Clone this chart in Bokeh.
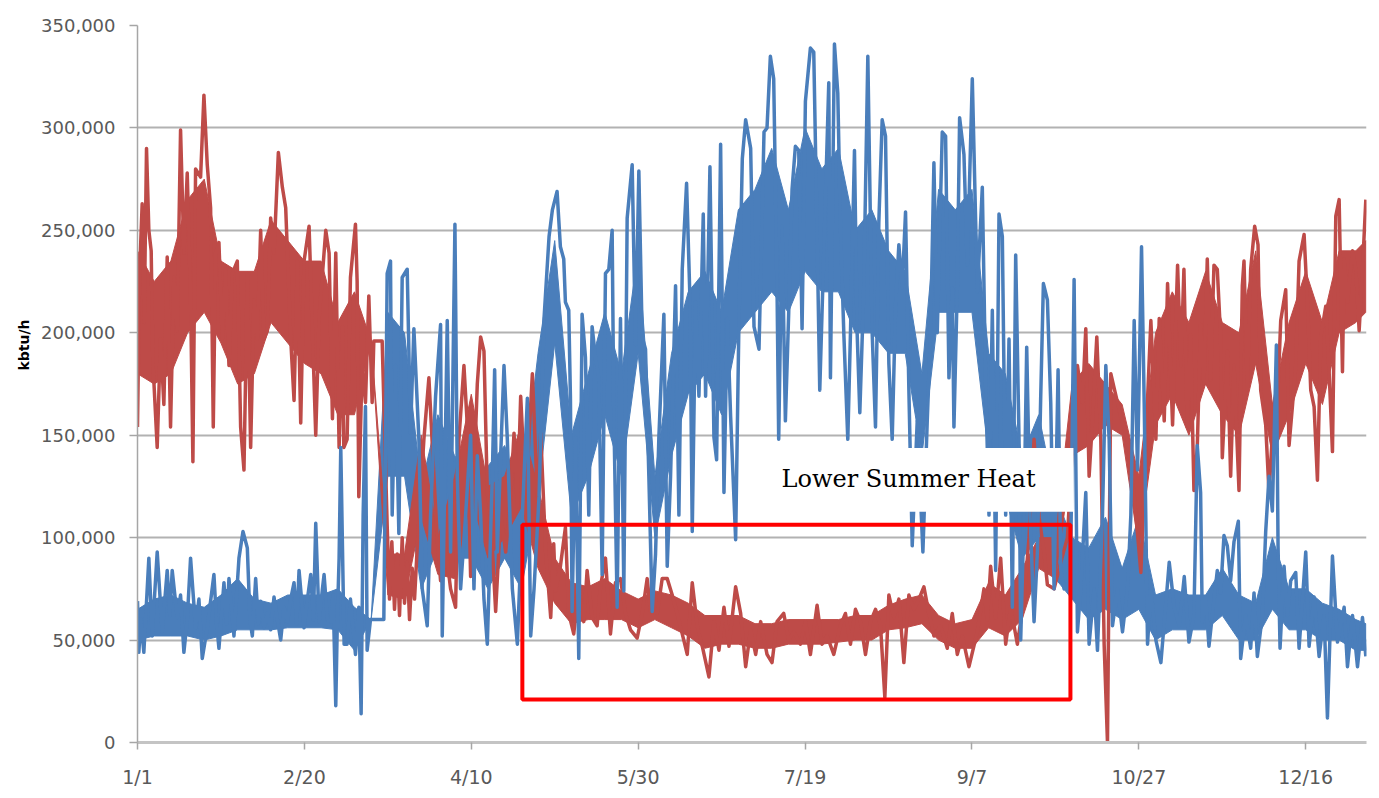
from bokeh.plotting import figure
from bokeh.models import ColumnDataSource, FixedTicker, Range1d, Label, NumeralTickFormatter, Title
from bokeh.embed import file_html
from bokeh.resources import INLINE

# ---------------- data ----------------
# x: day of year (0 = 1/1), y: kbtu/h in thousands
heat_days = [
    0.0, 0.6, 1.4, 2.0, 2.7, 3.4, 4.1, 4.6, 5.9, 6.9,
    7.9, 8.9, 9.9, 10.9, 11.9, 12.9, 13.9, 14.9, 15.9, 16.6,
    17.4, 18.9, 19.9, 20.9, 21.9, 22.7, 23.4, 24.4, 25.4, 26.4,
    27.4, 28.4, 29.9, 30.9, 31.9, 32.9, 33.9, 34.9, 35.9, 36.9,
    37.9, 38.9, 39.9, 40.9, 42.2, 43.4, 44.4, 45.9, 46.9, 47.9,
    48.9, 49.9, 51.4, 52.4, 53.4, 54.4, 56.4, 57.4, 58.4, 59.4,
    60.4, 61.4, 61.8, 62.8, 63.8, 65.3, 65.8, 66.3, 67.3, 68.3,
    69.3, 70.3, 70.8, 73.3, 73.6, 74.8, 75.5, 76.2, 77.0, 77.8,
    78.5, 79.3, 80.0, 80.8, 81.5, 82.3, 83.0, 83.8, 85.8, 87.3,
    88.8, 89.8, 90.8, 92.3, 93.8, 95.3, 96.3, 97.8, 98.8, 99.8,
    100.8, 101.8, 102.8, 103.8, 104.8, 105.8, 107.3, 108.8, 110.3, 111.8,
    112.8, 113.8, 114.8, 116.3, 118.3, 119.8, 120.8, 122.3, 123.8, 124.7,
    125.2, 126.7, 128.2, 129.2, 130.7, 132.2, 133.7, 134.7, 136.2, 137.7,
    138.7, 140.2, 141.7, 143.2, 144.7, 146.2, 147.7, 149.7, 151.2, 152.7,
    153.7, 155.7, 157.2, 158.7, 160.2, 161.7, 163.2, 164.7, 166.2, 167.7,
    169.2, 171.2, 172.7, 174.2, 175.7, 177.2, 179.2, 180.7, 182.2, 183.7,
    185.2, 186.7, 188.6, 190.1, 191.6, 193.6, 195.1, 196.6, 198.6, 200.1,
    201.6, 203.6, 205.1, 206.6, 208.6, 210.6, 212.1, 213.6, 215.1, 216.6,
    218.1, 219.6, 221.1, 222.6, 223.9, 225.1, 226.6, 228.1, 229.6, 231.1,
    232.6, 234.1, 235.6, 237.1, 238.6, 240.6, 242.6, 244.1, 245.6, 247.1,
    249.1, 251.6, 253.6, 254.6, 255.6, 257.1, 258.6, 260.1, 261.6, 263.6,
    265.6, 267.1, 268.6, 270.1, 271.6, 272.6, 274.6, 276.6, 278.6, 279.6,
    281.6, 283.1, 284.1, 285.1, 286.1, 287.4, 288.6, 289.6, 290.6, 291.6,
    292.6, 294.6, 296.6, 298.6, 299.6, 300.6, 302.1, 303.6, 305.1, 306.1,
    307.6, 308.6, 310.1, 311.6, 312.6, 313.5, 314.5, 315.5, 316.5, 317.5,
    318.5, 319.5, 320.5, 321.5, 322.5, 323.5, 324.5, 325.0, 326.5, 327.5,
    328.5, 330.0, 331.0, 331.5, 332.5, 333.5, 334.7, 335.7, 336.5, 338.0,
    339.0, 340.0, 341.5, 342.5, 344.0, 345.0, 346.0, 347.0, 348.0, 349.5,
    350.5, 351.5, 352.5, 353.5, 354.5, 356.0, 357.0, 358.0, 359.0, 360.0,
    361.0, 361.5, 362.5, 364.0, 365.0, 366.0, 367.0, 368.0,
]
heat_k = [
    154, 228, 263, 205, 290, 250, 240, 186, 144, 197,
    165, 237, 154, 227, 201, 299, 239, 278, 218, 137,
    280, 276, 316, 282, 261, 154, 239, 244, 197, 231,
    184, 229, 235, 154, 133, 229, 144, 216, 197, 250,
    197, 201, 256, 239, 288, 271, 261, 197, 167, 235,
    156, 235, 252, 201, 150, 207, 250, 239, 158, 239,
    144, 203, 144, 148, 227, 253, 225, 120, 184, 166,
    218, 166, 196, 196, 178, 106, 70, 98, 65, 92,
    62, 100, 68, 88, 60, 85, 70, 95, 148, 178,
    130, 100, 79, 95, 75, 66, 148, 184, 155, 81,
    130, 175, 198, 191, 122, 111, 64, 111, 93, 120,
    151, 115, 169, 119, 180, 120, 151, 93, 61, 97,
    74, 86, 105, 63, 53, 76, 59, 84, 61, 57,
    76, 90, 53, 78, 80, 63, 55, 51, 63, 80,
    64, 63, 80, 80, 72, 63, 53, 43, 78, 57,
    47, 32, 59, 45, 66, 47, 76, 63, 37, 55,
    43, 59, 43, 39, 59, 63, 50, 54, 48, 59,
    43, 67, 48, 52, 43, 57, 63, 48, 65, 59,
    43, 59, 65, 57, 22, 72, 61, 70, 39, 72,
    65, 70, 76, 63, 52, 57, 46, 63, 43, 52,
    37, 54, 75, 60, 86, 61, 90, 48, 66, 48,
    70, 100, 148, 110, 93, 77, 75, 88, 100, 130,
    184, 166, 202, 130, 157, 198, 148, 48, 0, 180,
    173, 159, 148, 120, 102, 83, 148, 206, 148, 207,
    157, 224, 155, 233, 184, 231, 154, 199, 123, 144,
    204, 175, 236, 177, 233, 231, 198, 139, 191, 130,
    184, 123, 223, 235, 172, 231, 252, 243, 172, 155,
    122, 150, 164, 206, 221, 145, 164, 184, 235, 248,
    215, 172, 164, 128, 198, 213, 181, 142, 257, 265,
    181, 236, 215, 240, 231, 201, 231, 265,
]

cool_days = [
    0.0, 0.4, 1.0, 1.9, 3.4, 4.4, 5.9, 7.4, 8.9, 9.7,
    10.4, 11.9, 12.9, 13.9, 14.9, 15.9, 17.4, 18.4, 19.4, 20.9,
    22.9, 23.7, 24.4, 25.9, 26.7, 27.4, 28.9, 30.4, 31.6, 32.9,
    33.7, 34.4, 35.4, 36.2, 36.9, 37.9, 38.9, 39.9, 40.9, 41.9,
    42.9, 43.9, 44.9, 45.9, 46.9, 47.7, 48.4, 49.9, 50.9, 51.9,
    52.7, 53.4, 54.4, 55.4, 55.9, 56.9, 57.9, 58.6, 59.4, 59.9,
    60.4, 60.9, 61.9, 62.8, 63.8, 65.3, 66.3, 67.0, 67.6, 68.3,
    68.8, 69.8, 73.8, 74.8, 75.8, 76.3, 77.3, 78.3, 79.3, 80.8,
    81.8, 82.8, 84.3, 85.3, 86.8, 87.8, 89.3, 90.8, 91.3, 92.8,
    93.8, 95.1, 95.8, 96.8, 98.3, 99.8, 100.8, 101.8, 102.8, 103.8,
    104.8, 106.3, 107.0, 107.8, 108.8, 109.8, 110.8, 112.3, 113.8, 115.3,
    116.8, 117.8, 118.8, 120.3, 121.8, 123.3, 124.3, 125.7, 126.7, 127.7,
    128.2, 129.2, 129.7, 130.2, 131.2, 132.2, 133.2, 134.2, 135.2, 136.2,
    137.2, 138.2, 139.2, 140.2, 141.2, 142.2, 142.7, 143.7, 144.7, 145.7,
    146.7, 148.2, 149.2, 150.2, 151.2, 152.2, 153.2, 154.2, 155.2, 156.2,
    157.7, 158.7, 159.7, 161.2, 162.2, 163.2, 164.5, 165.5, 166.2, 167.2,
    168.2, 169.5, 170.2, 171.5, 172.7, 173.5, 174.7, 175.7, 176.7, 177.7,
    179.2, 180.2, 181.2, 182.2, 183.7, 184.7, 186.2, 187.7, 188.6, 189.6,
    190.6, 191.6, 192.1, 193.1, 194.1, 195.1, 196.1, 197.1, 198.1, 199.1,
    200.1, 201.6, 202.6, 203.6, 204.4, 205.1, 206.1, 207.1, 207.6, 208.8,
    209.8, 210.6, 211.6, 212.8, 213.6, 214.8, 215.6, 216.4, 217.6, 218.8,
    220.1, 221.1, 222.1, 223.1, 224.1, 225.1, 226.1, 227.1, 228.1, 229.1,
    230.1, 231.1, 232.1, 233.6, 235.3, 236.6, 237.6, 238.6, 239.6, 241.1,
    242.1, 243.1, 244.1, 244.6, 245.6, 246.3, 247.6, 248.6, 250.1, 251.6,
    253.1, 254.1, 255.1, 256.1, 257.1, 258.1, 259.1, 260.1, 261.1, 262.1,
    263.1, 264.1, 264.6, 265.6, 266.4, 267.4, 268.6, 269.6, 270.6, 271.4,
    272.6, 273.6, 274.6, 275.8, 276.6, 277.6, 278.6, 279.6, 280.6, 281.6,
    282.6, 284.1, 285.1, 286.6, 287.6, 289.1, 290.1, 291.1, 292.1, 293.6,
    295.1, 296.6, 297.6, 298.6, 299.6, 300.8, 301.6, 302.6, 303.6, 305.1,
    306.6, 308.1, 309.1, 310.6, 312.1, 313.6, 315.0, 316.5, 317.5, 318.5,
    319.0, 320.0, 321.0, 322.0, 323.5, 324.5, 325.5, 326.5, 327.5, 328.5,
    329.8, 330.5, 332.0, 333.5, 334.5, 335.5, 337.0, 338.0, 339.0, 340.0,
    341.2, 341.7, 342.3, 343.5, 344.5, 345.5, 347.0, 348.0, 350.0, 351.0,
    352.5, 354.0, 355.5, 356.5, 358.0, 359.5, 361.5, 362.5, 364.0, 365.5,
    367.0, 368.0,
]
cool_k = [
    69, 44, 60, 44, 90, 52, 93, 54, 84, 62,
    84, 61, 72, 44, 60, 90, 56, 70, 41, 56,
    82, 58, 46, 78, 58, 80, 52, 90, 103, 95,
    60, 52, 80, 58, 69, 56, 63, 55, 71, 60,
    50, 66, 59, 70, 78, 58, 84, 56, 70, 82,
    60, 107, 59, 75, 82, 60, 59, 72, 18, 62,
    90, 144, 48, 48, 70, 43, 66, 14, 111, 164,
    45, 60, 60, 229, 235, 111, 184, 102, 227, 231,
    151, 202, 148, 75, 57, 111, 169, 204, 52, 206,
    93, 253, 130, 75, 111, 150, 75, 140, 111, 70,
    48, 130, 182, 93, 140, 184, 148, 75, 48, 111,
    168, 52, 75, 120, 207, 247, 260, 269, 242, 236,
    215, 211, 169, 64, 149, 41, 209, 188, 111, 203,
    188, 178, 82, 229, 231, 250, 161, 66, 207, 74,
    256, 282, 194, 279, 198, 192, 130, 64, 92, 149,
    209, 86, 130, 223, 111, 231, 273, 217, 103, 215,
    169, 258, 169, 281, 149, 138, 292, 122, 207, 159,
    99, 207, 285, 304, 290, 203, 192, 298, 300, 335,
    324, 222, 148, 252, 157, 210, 270, 291, 289, 202,
    313, 339, 337, 248, 172, 211, 265, 322, 178, 341,
    317, 252, 200, 148, 200, 289, 200, 161, 222, 335,
    200, 154, 254, 304, 296, 185, 148, 213, 243, 222,
    259, 172, 96, 157, 93, 157, 200, 283, 200, 298,
    296, 178, 222, 154, 222, 305, 287, 233, 324, 220,
    271, 175, 111, 211, 84, 258, 247, 111, 197, 66,
    238, 148, 50, 111, 193, 111, 59, 93, 169, 224,
    216, 166, 75, 182, 84, 75, 77, 93, 226, 54,
    75, 122, 48, 75, 45, 111, 184, 148, 57, 75,
    54, 75, 111, 206, 133, 242, 166, 48, 75, 50,
    39, 68, 88, 66, 57, 81, 49, 62, 145, 122,
    59, 71, 47, 62, 84, 73, 101, 96, 79, 98,
    108, 41, 62, 46, 73, 42, 62, 103, 130, 113,
    194, 96, 46, 86, 62, 79, 83, 46, 93, 47,
    71, 42, 62, 12, 91, 49, 66, 37, 62, 37,
    61, 42,
]

# dense core of each hourly trace (range that the trace fills), every 5 days, thousands
band_days = [0, 5, 10, 15, 20, 25, 30, 35, 40, 45,
             50, 55, 60, 65, 70, 75, 80, 85, 90, 95,
             100, 105, 110, 115, 120, 125, 130, 135, 140, 145,
             150, 155, 160, 165, 170, 175, 180, 185, 190, 195,
             200, 205, 210, 215, 220, 225, 230, 235, 240, 245,
             250, 255, 260, 265, 270, 275, 280, 285, 290, 295,
             300, 305, 310, 315, 320, 325, 330, 335, 340, 345,
             350, 355, 360, 365, 368]
heat_core_lo = [180, 175, 180, 200, 210, 195, 175, 180, 205, 195,
                185, 180, 160, 160, 196, 72, 70, 110, 82, 80,
                120, 90, 100, 115, 85, 68, 58, 60, 60, 60,
                56, 60, 56, 52, 46, 48, 48, 46, 46, 48,
                48, 48, 49, 50, 50, 55, 56, 58, 50, 46,
                46, 56, 52, 60, 85, 80, 140, 145, 155, 150,
                95, 155, 170, 150, 175, 160, 150, 185, 140, 160,
                185, 165, 200, 205, 210]
heat_core_hi = [240, 225, 235, 265, 275, 235, 230, 230, 255, 245,
                235, 235, 205, 220, 196, 92, 92, 150, 100, 130,
                170, 125, 130, 155, 125, 90, 78, 76, 80, 74,
                70, 74, 72, 68, 62, 62, 62, 58, 58, 60,
                60, 60, 60, 62, 62, 67, 70, 72, 62, 58,
                60, 78, 72, 85, 100, 100, 175, 185, 175, 165,
                130, 200, 220, 205, 230, 205, 200, 240, 165, 205,
                230, 205, 240, 240, 245]
cool_core_lo = [50, 52, 52, 52, 50, 52, 55, 55, 55, 56,
                56, 56, 55, 45, 60, 130, 130, 75, 95, 90,
                90, 75, 90, 75, 120, 195, 110, 130, 160, 130,
                190, 100, 140, 170, 180, 160, 200, 210, 220, 210,
                230, 220, 220, 200, 200, 190, 190, 140, 210, 210,
                210, 140, 120, 90, 100, 80, 70, 60, 65, 60,
                65, 50, 55, 55, 55, 62, 50, 50, 65, 55,
                55, 50, 50, 45, 45]
cool_core_hi = [65, 70, 72, 68, 66, 72, 80, 70, 68, 72,
                72, 72, 75, 66, 60, 210, 200, 125, 160, 140,
                130, 135, 145, 120, 190, 245, 150, 180, 210, 180,
                240, 130, 190, 220, 230, 210, 260, 270, 290, 260,
                300, 280, 290, 250, 260, 240, 230, 180, 270, 260,
                270, 190, 180, 140, 160, 120, 100, 95, 110, 85,
                110, 72, 75, 72, 72, 85, 72, 68, 100, 75,
                75, 68, 65, 60, 58]

tick_days = [0, 50, 100, 150, 200, 250, 300, 350]
tick_labels = ["1/1", "2/20", "4/10", "5/30", "7/19", "9/7", "10/27", "12/16"]
y_ticks = [0, 50000, 100000, 150000, 200000, 250000, 300000, 350000]

assert len(heat_days) == len(heat_k), (len(heat_days), len(heat_k))
assert len(cool_days) == len(cool_k), (len(cool_days), len(cool_k))
for arr in (heat_core_lo, heat_core_hi, cool_core_lo, cool_core_hi):
    assert len(arr) == len(band_days), len(arr)

K = 1000
heat_src = ColumnDataSource(dict(x=heat_days, y=[v * K for v in heat_k]))
cool_src = ColumnDataSource(dict(x=cool_days, y=[v * K for v in cool_k]))


def core_polygon(lo, hi):
    xs = list(band_days) + list(reversed(band_days))
    ys = [v * K for v in hi] + [v * K for v in reversed(lo)]
    return xs, ys


RED = "#BE4B48"
BLUE = "#4A7EBB"

# ---------------- figure ----------------
p = figure(width=1371, height=790, output_backend="svg", toolbar_location=None,
           x_range=Range1d(0, 368.2), y_range=Range1d(0, 350000),
           min_border_left=137, min_border_right=5, min_border_top=25, min_border_bottom=47)
p.background_fill_color = "white"
p.border_fill_color = "white"
p.outline_line_color = None

p.xgrid.grid_line_color = None
p.ygrid.ticker = FixedTicker(ticks=y_ticks)
p.ygrid.grid_line_color = "#b2b2b2"
p.ygrid.grid_line_width = 2

p.yaxis.ticker = FixedTicker(ticks=y_ticks)
p.yaxis.formatter = NumeralTickFormatter(format="0,0")
p.yaxis.axis_line_color = "#a6a6a6"
p.yaxis.axis_line_width = 1.5
p.yaxis.major_tick_line_color = "#a6a6a6"
p.yaxis.major_tick_line_width = 1.5
p.yaxis.major_tick_out = 8
p.yaxis.major_tick_in = 0
p.yaxis.minor_tick_line_color = None
p.yaxis.major_label_text_font = "DejaVu Sans"
p.yaxis.major_label_text_font_size = "18px"
p.yaxis.major_label_text_color = "#595959"
p.yaxis.major_label_standoff = 14

p.xaxis.ticker = FixedTicker(ticks=tick_days)
p.xaxis.major_label_overrides = {d: lab for d, lab in zip(tick_days, tick_labels)}
p.xaxis.axis_line_color = "#c4c4c4"
p.xaxis.axis_line_width = 3
p.xaxis.major_tick_line_color = "#a6a6a6"
p.xaxis.major_tick_line_width = 1.5
p.xaxis.major_tick_out = 7
p.xaxis.major_tick_in = 0
p.xaxis.minor_tick_line_color = None
p.xaxis.major_label_text_font = "DejaVu Sans"
p.xaxis.major_label_text_font_size = "19px"
p.xaxis.major_label_text_color = "#595959"
p.xaxis.major_label_standoff = 16

# y axis title, placed like the original (above the middle of the axis)
p.add_layout(Title(text="kbtu/h", align="left", offset=372, standoff=14,
                   text_font="DejaVu Sans", text_font_style="bold",
                   text_font_size="14px", text_color="#000000"), "left")

# series: dense hourly core + trace
cx, cy = core_polygon(cool_core_lo, cool_core_hi)
hx, hy = core_polygon(heat_core_lo, heat_core_hi)
p.patch(cx, cy, fill_color=BLUE, line_color=BLUE, line_width=1)
p.patch(hx, hy, fill_color=RED, line_color=RED, line_width=1)
p.line("x", "y", source=heat_src, line_color=RED, line_width=3.5, line_join="round")
p.line("x", "y", source=cool_src, line_color=BLUE, line_width=3.5, line_join="round")

# annotation: red rectangle
p.quad(left=115.3, right=279.5, bottom=21000, top=106300,
       fill_color=None, line_color="#FF0000", line_width=4)
# annotation: white text box
p.quad(left=181.5, right=280.4, bottom=112600, top=143800,
       fill_color="white", line_color=None)
p.add_layout(Label(x=231.0, y=128800, text="Lower Summer Heat",
                   text_align="center", text_baseline="middle",
                   text_font="DejaVu Serif", text_font_size="24px", text_color="black"))

open("out.html", "w").write(file_html(p, INLINE))
